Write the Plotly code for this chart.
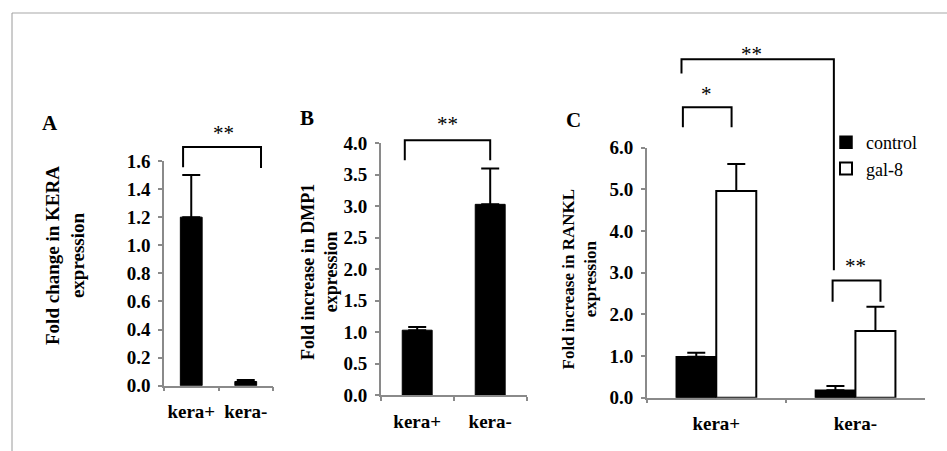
import plotly.graph_objects as go

# ---------------- data ----------------
cats = ["kera+", "kera-"]

kera_vals = [1.20, 0.03]
kera_err = [0.30, 0.01]

dmp1_vals = [1.03, 3.03]
dmp1_err = [0.05, 0.57]

rankl_control = [0.98, 0.18]
rankl_control_err = [0.10, 0.10]
rankl_gal8 = [4.96, 1.60]
rankl_gal8_err = [0.65, 0.58]

series_names = ["control", "gal-8"]

ticks_A = [0.0, 0.2, 0.4, 0.6, 0.8, 1.0, 1.2, 1.4, 1.6]
ticks_B = [0.0, 0.5, 1.0, 1.5, 2.0, 2.5, 3.0, 3.5, 4.0]
ticks_C = [0.0, 1.0, 2.0, 3.0, 4.0, 5.0, 6.0]

# significance brackets: (x_left, x_right, y_top, y_left_end, y_right_end, label, x_label, y_label)
brackets_A = [(-0.15, 1.28, 1.70, 1.556, 1.55, "**", 0.60, 1.80)]
brackets_B = [(-0.17, 1.0, 4.05, 3.73, 3.73, "**", 0.41, 4.30)]
brackets_C = [
    (-0.25, 0.845, 8.12, 7.78, 3.06, "**", 0.254, 8.25),
    (-0.24, 0.11, 6.97, 6.49, 6.49, "*", -0.07, 7.30),
    (0.836, 1.18, 2.81, 2.30, 2.30, "**", 1.0, 3.15),
]

# ---------------- style ----------------
W, H = 947, 451
SERIF = "Liberation Serif"
AXC = "#8a8a8a"

def px_x(p):
    return p / W

def px_y(p):
    return 1 - p / H

dom = {
    "A": ([px_x(164), px_x(273)], [px_y(385.7), px_y(161)], 1.6),
    "B": ([px_x(380.7), px_x(526.7)], [px_y(395), px_y(143.3)], 4.0),
    "C": ([px_x(646.7), px_x(925)], [px_y(397.7), px_y(147.7)], 6.0),
}

fig = go.Figure()

err_style = dict(type="data", symmetric=False, color="black", thickness=2, width=9)

fig.add_trace(go.Bar(
    x=cats, y=kera_vals, xaxis="x", yaxis="y", width=0.40,
    marker=dict(color="black", line=dict(color="black", width=1)),
    error_y=dict(array=kera_err, arrayminus=[0, 0], **err_style),
    showlegend=False,
))
fig.add_trace(go.Bar(
    x=cats, y=dmp1_vals, xaxis="x2", yaxis="y2", width=0.41,
    marker=dict(color="black", line=dict(color="black", width=1)),
    error_y=dict(array=dmp1_err, arrayminus=[0, 0], **err_style),
    showlegend=False,
))
fig.add_trace(go.Bar(
    x=cats, y=rankl_control, xaxis="x3", yaxis="y3", name=series_names[0],
    marker=dict(color="black", line=dict(color="black", width=1.5)),
    error_y=dict(array=rankl_control_err, arrayminus=[0, 0], **err_style),
))
fig.add_trace(go.Bar(
    x=cats, y=rankl_gal8, xaxis="x3", yaxis="y3", name=series_names[1],
    marker=dict(color="white", line=dict(color="black", width=2)),
    error_y=dict(array=rankl_gal8_err, arrayminus=[0, 0], **err_style),
))

tickfont = dict(family=SERIF, size=19, color="black", weight="bold")

def xax(domain, anchor):
    return dict(domain=domain, anchor=anchor, type="category", range=[-0.5, 1.5],
                showline=True, linecolor=AXC, linewidth=1.5, ticks="outside",
                tickson="boundaries", ticklen=4, tickcolor=AXC, tickwidth=1.5,
                showgrid=False, zeroline=False, tickfont=tickfont, tickangle=0,
                ticklabelstandoff=8, fixedrange=True, automargin=False)

def yax(domain, anchor, ymax, tv):
    return dict(domain=domain, anchor=anchor, range=[0, ymax], tickvals=tv,
                ticktext=[f"{v:.1f}" for v in tv],
                showline=True, linecolor=AXC, linewidth=1.5, ticks="outside",
                ticklen=4, tickcolor=AXC, tickwidth=1.5, showgrid=False,
                zeroline=False, tickfont=tickfont, ticklabelstandoff=4,
                fixedrange=True, automargin=False)

fig.update_layout(
    xaxis=xax(dom["A"][0], "y"), yaxis=yax(dom["A"][1], "x", dom["A"][2], ticks_A),
    xaxis2=xax(dom["B"][0], "y2"), yaxis2=yax(dom["B"][1], "x2", dom["B"][2], ticks_B),
    xaxis3=xax(dom["C"][0], "y3"), yaxis3=yax(dom["C"][1], "x3", dom["C"][2], ticks_C),
)

shapes = []
annotations = []

# frame lines
shapes.append(dict(type="line", xref="paper", yref="paper", x0=px_x(12), x1=1.0,
                   y0=px_y(13), y1=px_y(13), line=dict(color="#c4c4c4", width=1.5)))
shapes.append(dict(type="line", xref="paper", yref="paper", x0=px_x(12), x1=px_x(12),
                   y0=px_y(13), y1=0, line=dict(color="#9a9a9a", width=1)))

def add_brackets(brs, xr, yr, ymax):
    for (xl, xrr, yt, yl, yre, lab, xlab, ylab) in brs:
        path = (f"M {xl} {yl/ymax} L {xl} {yt/ymax} L {xrr} {yt/ymax} L {xrr} {yre/ymax}")
        shapes.append(dict(type="path", xref=xr, yref=f"{yr} domain", path=path,
                           line=dict(color="black", width=2)))
        annotations.append(dict(x=xlab, y=ylab / ymax, xref=xr, yref=f"{yr} domain",
                                text=lab, showarrow=False, xanchor="center", yanchor="middle",
                                font=dict(family=SERIF, size=21, color="black")))

add_brackets(brackets_A, "x", "y", dom["A"][2])
add_brackets(brackets_B, "x2", "y2", dom["B"][2])
add_brackets(brackets_C, "x3", "y3", dom["C"][2])

# panel letters
for lab, (lx, ly) in {"A": (50, 123), "B": (307, 118), "C": (573, 120)}.items():
    annotations.append(dict(x=px_x(lx), y=px_y(ly), xref="paper", yref="paper", text=lab,
                            showarrow=False, xanchor="center", yanchor="middle",
                            font=dict(family=SERIF, size=21, color="black", weight="bold")))

# y-axis titles
ytitles = [
    ("Fold change in KERA<br>expression", 65, 256, 19),
    ("Fold increase in DMP1<br>expression", 319, 272, 18),
    ("Fold increase in RANKL<br>expression", 578.5, 279, 17),
]
for txt, tx, ty, fs in ytitles:
    annotations.append(dict(x=px_x(tx), y=px_y(ty), xref="paper", yref="paper", text=txt,
                            textangle=-90, showarrow=False, xanchor="center", yanchor="middle",
                            font=dict(family=SERIF, size=fs, color="black", weight="bold")))

fig.update_layout(
    width=W, height=H, autosize=False,
    margin=dict(l=0, r=0, t=0, b=0, pad=0, autoexpand=False),
    paper_bgcolor="white", plot_bgcolor="white",
    barmode="group", bargap=0.425, bargroupgap=0,
    shapes=shapes, annotations=annotations,
    showlegend=True,
    legend=dict(x=px_x(826), y=px_y(124), xanchor="left", yanchor="top",
                font=dict(family=SERIF, size=18, color="black"),
                bgcolor="rgba(0,0,0,0)", borderwidth=0, itemclick=False,
                itemdoubleclick=False),
)

fig.write_html(
    "out.html",
    config={"displayModeBar": False},
    post_script="document.body.style.margin='0';document.body.style.overflow='hidden';",
)
